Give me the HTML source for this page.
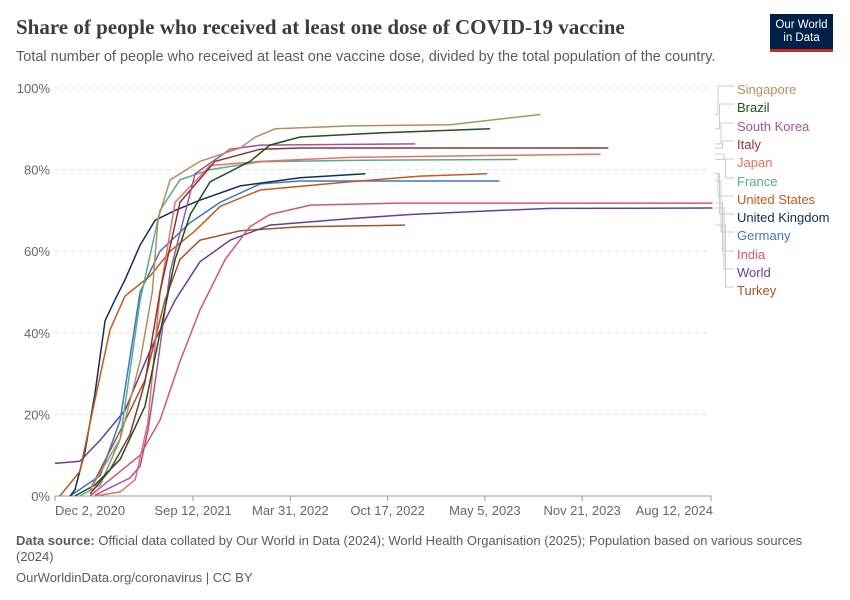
<!DOCTYPE html>
<html><head><meta charset="utf-8">
<style>
body{margin:0;background:#fff;font-family:"Liberation Sans",sans-serif;}
#wrap{position:relative;width:850px;height:600px;overflow:hidden;}
.t{position:absolute;white-space:nowrap;}
</style></head><body>
<div id="wrap">
<div class="t" style="left:16px;top:15px;font-family:'Liberation Serif',serif;font-size:21px;font-weight:bold;color:#3d3d3d;">Share of people who received at least one dose of COVID-19 vaccine</div>
<div class="t" style="left:16px;top:49px;font-size:14.5px;color:#5b5b5b;">Total number of people who received at least one vaccine dose, divided by the total population of the country.</div>
<div style="position:absolute;left:770px;top:14px;width:63px;height:38px;background:#002147;border-bottom:3px solid #ce261e;color:#fff;font-size:11.5px;line-height:13px;text-align:center;padding-top:5px;box-sizing:border-box;">Our World<br>in Data</div>
<svg id="chart" width="850" height="600" style="position:absolute;left:0;top:0;"></svg>
<div class="t" style="left:16px;top:533px;font-size:13px;color:#5b5b5b;line-height:16px;white-space:normal;width:790px;"><b>Data source:</b> Official data collated by Our World in Data (2024); World Health Organisation (2025); Population based on various sources (2024)</div>
<div class="t" style="left:16px;top:570px;font-size:13px;color:#5b5b5b;">OurWorldinData.org/coronavirus | CC BY</div>
</div>
<script>
const yTicks=[0,20,40,60,80,100];
const xTickDays=[0,284,484,684,884,1084,1349];
const xTickLabels=["Dec 2, 2020","Sep 12, 2021","Mar 31, 2022","Oct 17, 2022","May 5, 2023","Nov 21, 2023","Aug 12, 2024"];
const seriesNames=["Singapore","Brazil","South Korea","Italy","Japan","France","United States","United Kingdom","Germany","India","World","Turkey"];
const seriesColors=["#b88c5a","#1e5218","#a8519f","#8c3434","#e5735f","#57ab8f","#c75a16","#0f2f5e","#3c77c8","#d5566e","#6c3e92","#a35428"];
const singaporeDays=[72,134,175,200,212,237,298,381,412,453,607,813,998];
const singaporeVals=[1.5,14,33,50,68,77.5,82,85.3,88,90,90.7,91,93.5];
const brazilDays=[41,82,134,185,216,247,278,319,401,442,504,669,895];
const brazilVals=[0,2.7,9,22,40,58,69,77,82,86,88,89,90];
const koreaDays=[82,154,175,191,206,237,288,360,422,741];
const koreaVals=[0.2,4.4,7.3,16,28,55,79,85,86,86.3];
const italyDays=[72,113,154,185,216,257,329,422,504,1138];
const italyVals=[0.5,6.4,15,28,50,72,82,85,85.3,85.3];
const japanDays=[82,134,165,191,216,247,319,422,607,1122];
const japanVals=[0,1,4,18,50,72,81,82,83,83.8];
const franceDays=[51,93,134,175,216,257,319,422,628,951];
const franceVals=[0,2.7,14,48,70,77.5,80,81.9,82.3,82.5];
const usDays=[10,51,82,113,144,196,237,288,340,422,607,751,889];
const usVals=[0,6,23.5,40.7,49,54,60,65,71,75,77,78.4,79];
const ukDays=[31,41,62,82,103,123,144,175,206,247,298,381,504,638];
const ukVals=[0,1.5,11,25,43,48,53,61.5,67.6,70,72.5,76,78,79];
const germanyDays=[31,93,134,175,216,278,340,422,504,914];
const germanyVals=[0,5,18.6,50,60,67,72,76.5,77.2,77.2];
const indiaDays=[72,113,175,216,257,298,350,401,442,525,710,1352];
const indiaVals=[0,4,10,18.6,33,45.6,58,66,69,71.3,71.8,71.8];
const worldDays=[0,51,93,144,196,247,298,360,442,607,731,916,1019,1352];
const worldVals=[8,8.5,13.7,21,35.8,48,57.4,62.7,66.4,68,69,70,70.5,70.6];
const turkeyDays=[72,93,134,185,226,257,298,381,504,720];
const turkeyVals=[1.5,6.4,16,28.4,48,58,62.7,65,66,66.4];
const allDays=[singaporeDays,brazilDays,koreaDays,italyDays,japanDays,franceDays,usDays,ukDays,germanyDays,indiaDays,worldDays,turkeyDays];
const allVals=[singaporeVals,brazilVals,koreaVals,italyVals,japanVals,franceVals,usVals,ukVals,germanyVals,indiaVals,worldVals,turkeyVals];

const NS="http://www.w3.org/2000/svg";
const svg=document.getElementById('chart');
const X0=55,X1=711,Y0=496,Y1=88,DMAX=1349;
const xs=d=>X0+(X1-X0)*d/DMAX;
const ys=v=>Y0-(Y0-Y1)*v/100;
function mk(tag,attrs,parent){const e=document.createElementNS(NS,tag);for(const k in attrs)e.setAttribute(k,attrs[k]);(parent||svg).appendChild(e);return e;}
yTicks.forEach(v=>{
  if(v>0){const g=mk('line',{x1:X0,x2:X1,y1:ys(v),y2:ys(v),stroke:'#dddddd','stroke-dasharray':'4,4'});
  
  }
  const t=mk('text',{x:50,y:ys(v)+5,'text-anchor':'end','font-size':13,fill:'#666','font-family':'Liberation Sans'});
  t.textContent=v+'%';
  
  
});
const ax=mk('line',{x1:X0,x2:X1,y1:Y0,y2:Y0,stroke:'#999'});


xTickDays.forEach((d,i)=>{
  const tk=mk('line',{x1:xs(d),x2:xs(d),y1:Y0,y2:Y0+5,stroke:'#999'});
  
  
  const anchor=i==0?'start':(i==xTickDays.length-1?'end':'middle');
  const t=mk('text',{x:i==0?xs(d):(i==xTickDays.length-1?xs(d)+2:xs(d)),y:Y0+19,'text-anchor':anchor,'font-size':13,fill:'#666','font-family':'Liberation Sans'});
  t.textContent=xTickLabels[i];
  
  
});
const legendY=[90,108,127,145,163,182,200,218,236,255,273,291];
for(let i=seriesNames.length-1;i>=0;i--){
  const d=allDays[i],v=allVals[i];
  const p=mk('polyline',{points:d.map((dd,j)=>xs(dd).toFixed(1)+','+ys(v[j]).toFixed(1)).join(' '),fill:'none',stroke:seriesColors[i],'stroke-width':1.5});
  
  
  const endY=ys(v[v.length-1]);
  const ly=legendY[i]-4;
  const kx=718+(i%6)*1.5;
  const c=mk('polyline',{points:`${X1+4},${endY} ${kx},${endY} ${kx},${ly} 734,${ly}`,fill:'none',stroke:'#ccc','stroke-width':1});
  
  
  const t=mk('text',{x:737,y:legendY[i]+4,'font-size':13,fill:seriesColors[i],'font-family':'Liberation Sans'});
  t.textContent=seriesNames[i];
  
  
}
</script>
</body></html>
